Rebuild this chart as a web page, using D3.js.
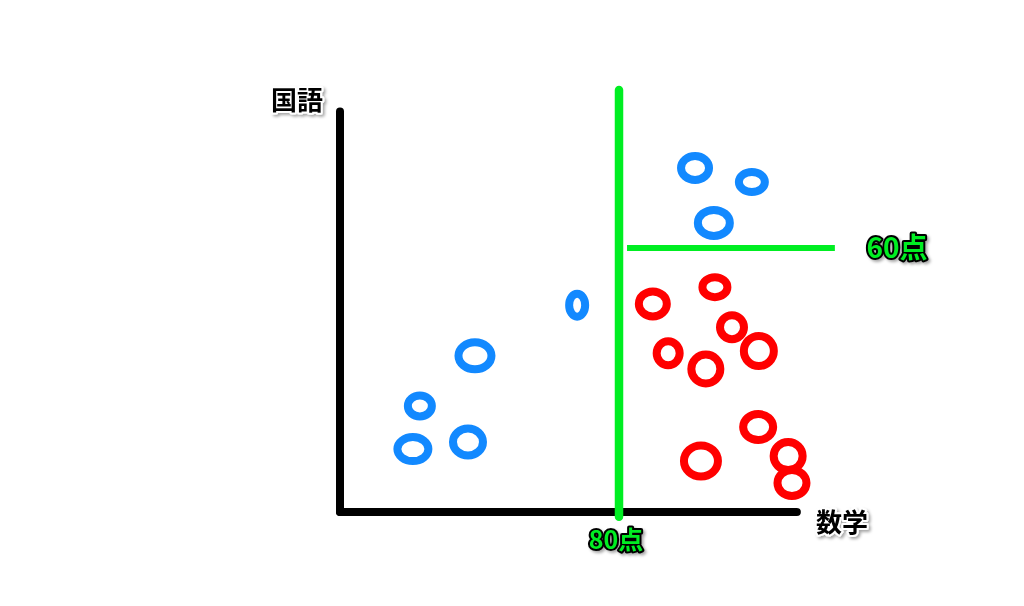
<!DOCTYPE html>
<html>
<head>
<meta charset="utf-8">
<script src="https://cdn.jsdelivr.net/npm/d3@7/dist/d3.min.js"></script>
<style>
html,body{margin:0;padding:0;background:#fff;}
svg{display:block;}
text{font-family:"Noto Sans CJK JP","Noto Sans",sans-serif;font-weight:700;}
</style>
</head>
<body>
<svg id="chart" width="1024" height="606"></svg>
<script>
// 数学 (x) and 国語 (y) scores
const blueMath = [101.8, 118.1, 107.2, 68.0, 38.7, 22.9, 20.9, 36.7];
const blueJapanese = [78.2, 75.0, 65.7, 47.0, 35.5, 24.1, 14.3, 15.9];
const blueRx = [18, 17, 20, 12, 20.5, 16, 19.5, 19];
const blueRy = [16, 14, 17, 15.5, 17.5, 14.5, 16, 17.5];

const redMath = [89.7, 107.5, 112.4, 94.1, 104.9, 120.1, 119.9, 103.5, 128.5, 129.6];
const redJapanese = [47.3, 51.1, 42.0, 36.1, 32.5, 36.6, 19.3, 11.6, 12.7, 6.6];
const redRx = [18, 16.5, 16, 15.5, 18.5, 19, 19, 21, 18.5, 18.5];
const redRy = [16.5, 14, 16, 16, 18.5, 19, 17, 19.5, 18, 17];

const mathThreshold = 80;
const japaneseThreshold = 60;
const thresholdLabels = ["80点", "60点"];
const axisLabels = ["数学", "国語"];
const xAxisMax = 131;
const yAxisMax = 91;

const svg = d3.select("#chart");
const x = d3.scaleLinear().domain([0, 80]).range([340, 619]);
const y = d3.scaleLinear().domain([0, 60]).range([512, 248]);

const defs = svg.append("defs");
const f = defs.append("filter").attr("id", "shadow").attr("x", "-20%").attr("y", "-20%").attr("width", "140%").attr("height", "160%");
f.append("feDropShadow").attr("dx", 2).attr("dy", 2).attr("stdDeviation", 1.5).attr("flood-color", "#000").attr("flood-opacity", 0.35);

// axes
svg.append("line")
  .attr("x1", x(0)).attr("y1", y(yAxisMax)).attr("x2", x(0)).attr("y2", y(0))
  .attr("stroke", "#000").attr("stroke-width", 8).attr("stroke-linecap", "round");
svg.append("line")
  .attr("x1", x(0)).attr("y1", y(0)).attr("x2", x(xAxisMax)).attr("y2", y(0))
  .attr("stroke", "#000").attr("stroke-width", 8).attr("stroke-linecap", "round");

// threshold lines
const green = "#00ee22";
svg.append("line")
  .attr("x1", x(mathThreshold)).attr("y1", y(95.9)).attr("x2", x(mathThreshold)).attr("y2", y(-1.1))
  .attr("stroke", green).attr("stroke-width", 8.5).attr("stroke-linecap", "round");
svg.append("line")
  .attr("x1", x(82.3)).attr("y1", y(japaneseThreshold)).attr("x2", x(141.9)).attr("y2", y(japaneseThreshold))
  .attr("stroke", green).attr("stroke-width", 6);

// points
function drawPoints(xs, ys, rxs, rys, color) {
  const data = xs.map((v, i) => ({x: v, y: ys[i], rx: rxs[i], ry: rys[i]}));
  svg.append("g").selectAll("ellipse").data(data).join("ellipse")
    .attr("cx", d => x(d.x)).attr("cy", d => y(d.y))
    .attr("rx", d => d.rx - 4).attr("ry", d => d.ry - 4)
    .attr("fill", "none").attr("stroke", color).attr("stroke-width", 8);
}
drawPoints(blueMath, blueJapanese, blueRx, blueRy, "#1289ff");
drawPoints(redMath, redJapanese, redRx, redRy, "#ff0000");

// labels
function label(t, cx, cy, size, fill, stroke) {
  svg.append("text").attr("x", cx).attr("y", cy).attr("text-anchor", "middle").attr("dominant-baseline", "central")
    .attr("font-size", size).attr("fill", fill).attr("stroke", stroke).attr("stroke-width", 4)
    .attr("paint-order", "stroke").attr("stroke-linejoin", "round").attr("filter", "url(#shadow)").text(t);
}
label(axisLabels[1], 297, 98, 26, "#000", "#fff");
label(axisLabels[0], 842, 520, 26, "#000", "#fff");
label(thresholdLabels[0], 616, 538, 25, green, "#000");
label(thresholdLabels[1], 897, 246, 28, green, "#000");
</script>
</body>
</html>
